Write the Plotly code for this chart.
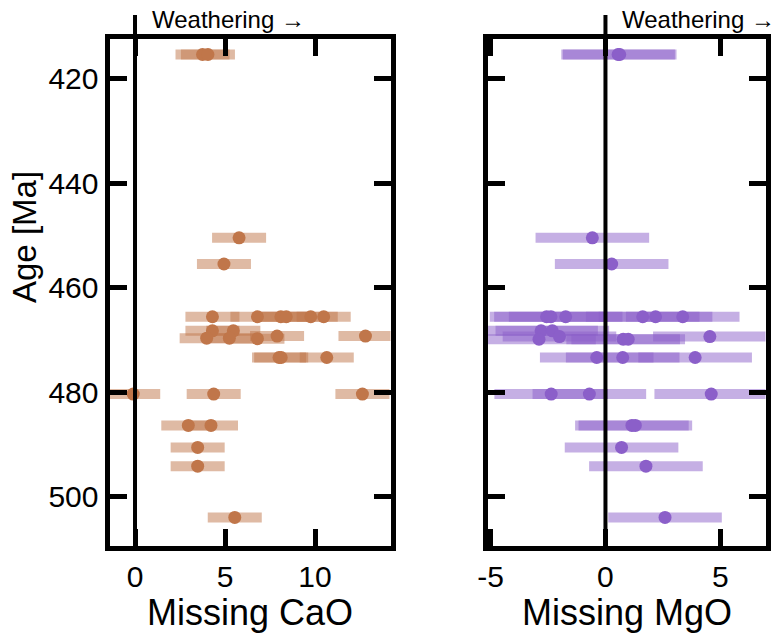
import plotly.graph_objects as go

# Missing CaO per sample (wt%), with its age and uncertainty
cao_age = [415.4, 415.4, 450.5, 455.5,
           465.6, 465.6, 465.6, 465.6, 465.6, 465.6,
           468.3, 468.3,
           469.7, 469.7, 469.8, 469.3, 469.3,
           473.4, 473.4, 473.4,
           480.4, 480.4, 480.4,
           486.4, 486.4, 490.6, 494.2, 504.0]
cao_val = [3.75, 4.05, 5.78, 4.94,
           4.3, 6.8, 8.1, 8.4, 9.76, 10.48,
           4.3, 5.46,
           3.98, 5.24, 6.8, 7.89, 12.8,
           8.0, 8.12, 10.65,
           -0.1, 4.37, 12.63,
           2.96, 4.22, 3.48, 3.48, 5.54]
cao_err = [1.5] * len(cao_val)

# Missing MgO per sample (wt%)
mgo_age = [415.4, 415.4, 450.5, 455.5,
           465.6, 465.6, 465.6, 465.6, 465.6, 465.6,
           468.3, 468.3,
           469.4, 469.4, 469.9, 469.9, 469.9,
           473.4, 473.4, 473.4,
           480.4, 480.4, 480.4,
           486.4, 486.4, 490.6, 494.2, 504.0]
mgo_val = [0.55, 0.62, -0.57, 0.27,
           -2.56, -2.37, -1.73, 1.62, 2.18, 3.36,
           -2.8, -2.31,
           -2.0, 4.54, -2.89, 0.77, 0.99,
           -0.38, 0.75, 3.9,
           -2.36, -0.7, 4.6,
           1.15, 1.3, 0.7, 1.76, 2.59]
mgo_err = [2.47] * len(mgo_val)

age_ticks = [420, 440, 460, 480, 500]
cao_ticks = [0, 5, 10]
mgo_ticks = [-5, 0, 5]

W, H = 775, 636
FONT = "Liberation Sans, Arial, Helvetica, sans-serif"
CAO_DOT, CAO_BAR = "#c0764a", "rgba(192,118,74,0.5)"
MGO_DOT, MGO_BAR = "#8b5fc9", "rgba(139,95,201,0.5)"

# plot areas in pixels
L1, R1 = 109.5, 390.5
L2, R2 = 487.5, 765.5
TOP, BOT = 38.5, 545.5

def px(v, total):
    return v / total

fig = go.Figure()
fig.add_trace(go.Scatter(
    x=cao_val, y=cao_age, mode="markers", xaxis="x", yaxis="y",
    marker=dict(color=CAO_DOT, size=13, line=dict(width=0)),
    error_x=dict(type="data", array=cao_err, color=CAO_BAR,
                 thickness=10, width=0),
    showlegend=False))
fig.add_trace(go.Scatter(
    x=mgo_val, y=mgo_age, mode="markers", xaxis="x2", yaxis="y2",
    marker=dict(color=MGO_DOT, size=13, line=dict(width=0)),
    error_x=dict(type="data", array=mgo_err, color=MGO_BAR,
                 thickness=10, width=0),
    showlegend=False))

axis_common = dict(showline=True, linewidth=5, linecolor="black",
                   mirror="allticks", ticks="inside", ticklen=17,
                   tickwidth=5, tickcolor="black", showgrid=False,
                   zeroline=False, automargin=False,
                   tickfont=dict(family=FONT, size=30, color="black"))

ydom = [1 - BOT / H, 1 - TOP / H]
fig.update_layout(
    width=W, height=H, margin=dict(l=0, r=0, t=0, b=0),
    paper_bgcolor="white", plot_bgcolor="white",
    xaxis=dict(domain=[px(L1, W), px(R1, W)], range=[-1.417, 14.19],
               tickvals=cao_ticks, ticktext=[str(t) for t in cao_ticks],
               anchor="y", **axis_common),
    xaxis2=dict(domain=[px(L2, W), px(R2, W)], range=[-5.13, 6.96],
                tickvals=mgo_ticks, ticktext=[str(t) for t in mgo_ticks],
                anchor="y2", **axis_common),
    yaxis=dict(domain=ydom, range=[509.38, 412.34], tickvals=age_ticks,
               ticktext=[str(t) for t in age_ticks],
               anchor="x", **axis_common),
    yaxis2=dict(domain=ydom, range=[509.38, 412.34], tickvals=age_ticks,
                anchor="x2", showticklabels=False, **axis_common),
)

# vertical zero lines that rise above the frame
for xr in ("x", "x2"):
    fig.add_shape(type="line", xref=xr, yref="paper", x0=0, x1=0,
                  y0=ydom[0], y1=1 - 15 / H,
                  line=dict(color="black", width=4), layer="above")
    fig.add_annotation(xref=xr, yref="paper", x=0, y=1 - 20 / H,
                       text="Weathering \u2192", showarrow=False,
                       xanchor="left", yanchor="middle", xshift=15,
                       font=dict(family=FONT, size=24, color="black"))

# axis titles
fig.add_annotation(xref="paper", yref="paper", x=px((L1 + R1) / 2, W),
                   y=1 - 612 / H, text="Missing CaO", showarrow=False,
                   xanchor="center", yanchor="middle",
                   font=dict(family=FONT, size=36, color="black"))
fig.add_annotation(xref="paper", yref="paper", x=px((L2 + R2) / 2, W),
                   y=1 - 612 / H, text="Missing MgO", showarrow=False,
                   xanchor="center", yanchor="middle",
                   font=dict(family=FONT, size=36, color="black"))
fig.add_annotation(xref="paper", yref="paper", x=px(25, W),
                   y=1 - 237 / H, text="Age [Ma]", showarrow=False,
                   textangle=-90, xanchor="center", yanchor="middle",
                   font=dict(family=FONT, size=33, color="black"))

fig.write_html("out.html")
